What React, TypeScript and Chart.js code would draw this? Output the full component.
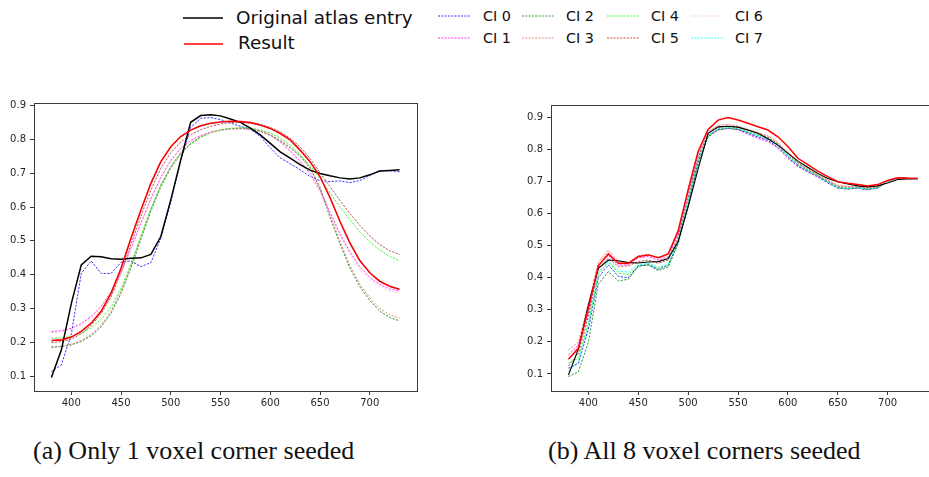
import React, { useEffect, useRef } from "react";
import { Chart, registerables } from "chart.js";
Chart.register(...registerables);

// ---------------- data ----------------
const wavelengths = [380,390,400,410,420,430,440,450,460,470,480,490,500,510,520,530,540,550,560,570,580,590,600,610,620,630,640,650,660,670,680,690,700,710,720,730];
const xTickValues = [400, 450, 500, 550, 600, 650, 700];
const yTickValues = [0.1, 0.2, 0.3, 0.4, 0.5, 0.6, 0.7, 0.8, 0.9];

const originalAtlas = [0.097,0.178,0.315,0.429,0.455,0.453,0.447,0.446,0.449,0.450,0.460,0.513,0.621,0.739,0.850,0.870,0.872,0.869,0.860,0.850,0.833,0.813,0.788,0.763,0.744,0.725,0.709,0.699,0.692,0.686,0.683,0.686,0.695,0.706,0.708,0.710];

// (a) Only 1 voxel corner seeded
const leftResult = [0.206,0.208,0.216,0.233,0.257,0.292,0.346,0.419,0.508,0.591,0.670,0.734,0.778,0.808,0.827,0.840,0.847,0.851,0.853,0.852,0.849,0.842,0.832,0.817,0.798,0.768,0.734,0.690,0.628,0.558,0.494,0.442,0.406,0.381,0.366,0.357];
const leftCI0 = [0.114,0.134,0.225,0.404,0.441,0.404,0.404,0.437,0.441,0.424,0.436,0.508,0.615,0.735,0.835,0.862,0.864,0.858,0.848,0.838,0.830,0.808,0.775,0.745,0.728,0.710,0.690,0.678,0.675,0.677,0.672,0.678,0.693,0.707,0.707,0.704];
const leftCI1 = [0.232,0.235,0.242,0.256,0.277,0.307,0.350,0.408,0.478,0.553,0.625,0.688,0.738,0.773,0.796,0.811,0.821,0.827,0.830,0.831,0.829,0.823,0.811,0.792,0.766,0.735,0.700,0.650,0.585,0.522,0.468,0.424,0.392,0.371,0.358,0.352];
const leftCI2 = [0.186,0.188,0.193,0.203,0.220,0.246,0.287,0.345,0.420,0.505,0.588,0.660,0.715,0.757,0.786,0.806,0.819,0.827,0.831,0.832,0.830,0.824,0.812,0.795,0.775,0.750,0.715,0.655,0.570,0.492,0.420,0.365,0.324,0.293,0.274,0.264];
const leftCI3 = [0.187,0.189,0.195,0.206,0.224,0.251,0.293,0.352,0.428,0.512,0.594,0.665,0.719,0.760,0.788,0.808,0.820,0.828,0.832,0.833,0.831,0.825,0.814,0.797,0.777,0.752,0.718,0.660,0.577,0.500,0.428,0.373,0.332,0.301,0.282,0.272];
const leftCI4 = [0.213,0.214,0.218,0.227,0.243,0.268,0.305,0.360,0.432,0.515,0.595,0.665,0.720,0.760,0.787,0.806,0.819,0.827,0.832,0.834,0.833,0.828,0.818,0.803,0.783,0.755,0.722,0.685,0.642,0.601,0.562,0.527,0.497,0.473,0.454,0.442];
const leftCI5 = [0.200,0.203,0.210,0.226,0.250,0.285,0.335,0.405,0.490,0.573,0.650,0.714,0.760,0.792,0.813,0.828,0.838,0.845,0.849,0.850,0.849,0.844,0.835,0.822,0.803,0.778,0.743,0.702,0.660,0.620,0.581,0.546,0.515,0.489,0.471,0.460];
const leftCI6 = [0.229,0.232,0.239,0.253,0.274,0.304,0.346,0.404,0.474,0.549,0.621,0.684,0.734,0.770,0.794,0.809,0.819,0.825,0.829,0.830,0.828,0.822,0.810,0.790,0.763,0.731,0.694,0.643,0.578,0.515,0.461,0.417,0.385,0.364,0.352,0.346];
const leftCI7 = [0.205,0.207,0.215,0.232,0.256,0.291,0.345,0.418,0.507,0.590,0.669,0.733,0.777,0.807,0.826,0.839,0.846,0.850,0.852,0.851,0.848,0.841,0.831,0.816,0.797,0.767,0.733,0.689,0.627,0.557,0.493,0.441,0.405,0.380,0.365,0.356];

// (b) All 8 voxel corners seeded
const rightResult = [0.146,0.180,0.305,0.437,0.474,0.445,0.445,0.466,0.471,0.462,0.474,0.545,0.674,0.793,0.862,0.891,0.899,0.891,0.881,0.870,0.860,0.839,0.809,0.772,0.752,0.732,0.715,0.699,0.694,0.690,0.686,0.690,0.703,0.711,0.710,0.709];
const rightCI0 = [0.118,0.133,0.240,0.400,0.440,0.404,0.400,0.437,0.440,0.426,0.438,0.510,0.630,0.760,0.840,0.862,0.866,0.862,0.850,0.838,0.828,0.806,0.775,0.748,0.730,0.714,0.695,0.679,0.676,0.679,0.674,0.679,0.700,0.710,0.710,0.705];
const rightCI1 = [0.160,0.190,0.290,0.440,0.470,0.440,0.440,0.462,0.466,0.455,0.465,0.535,0.660,0.775,0.845,0.860,0.866,0.860,0.847,0.834,0.824,0.803,0.772,0.746,0.730,0.714,0.700,0.680,0.677,0.679,0.675,0.680,0.700,0.710,0.710,0.705];
const rightCI2 = [0.092,0.107,0.200,0.380,0.419,0.390,0.395,0.435,0.440,0.422,0.433,0.505,0.625,0.755,0.838,0.860,0.865,0.862,0.852,0.842,0.832,0.812,0.780,0.752,0.733,0.716,0.698,0.680,0.677,0.680,0.675,0.680,0.700,0.710,0.710,0.706];
const rightCI3 = [0.175,0.200,0.320,0.449,0.486,0.450,0.447,0.468,0.474,0.462,0.474,0.550,0.670,0.785,0.855,0.875,0.878,0.872,0.862,0.852,0.842,0.822,0.790,0.760,0.740,0.722,0.705,0.688,0.684,0.685,0.680,0.684,0.700,0.710,0.709,0.706];
const rightCI4 = [0.133,0.150,0.260,0.410,0.450,0.414,0.410,0.437,0.444,0.430,0.440,0.515,0.640,0.765,0.842,0.864,0.868,0.865,0.855,0.845,0.835,0.815,0.783,0.755,0.735,0.718,0.700,0.682,0.679,0.681,0.676,0.681,0.700,0.710,0.710,0.705];
const rightCI5 = [0.125,0.165,0.280,0.430,0.460,0.435,0.437,0.450,0.455,0.445,0.455,0.525,0.650,0.775,0.850,0.868,0.872,0.868,0.858,0.849,0.838,0.818,0.787,0.758,0.738,0.720,0.702,0.685,0.682,0.683,0.678,0.682,0.700,0.710,0.710,0.705];
const rightCI6 = [0.155,0.185,0.300,0.445,0.480,0.445,0.440,0.465,0.470,0.458,0.470,0.545,0.668,0.785,0.856,0.874,0.878,0.872,0.862,0.852,0.842,0.822,0.790,0.760,0.740,0.722,0.703,0.688,0.684,0.684,0.680,0.684,0.700,0.710,0.709,0.706];
const rightCI7 = [0.110,0.140,0.255,0.415,0.452,0.420,0.418,0.440,0.445,0.432,0.442,0.518,0.642,0.768,0.843,0.864,0.868,0.864,0.853,0.843,0.833,0.812,0.780,0.752,0.733,0.716,0.698,0.680,0.678,0.680,0.676,0.680,0.700,0.710,0.710,0.705];

const ciLabels = ["CI 0", "CI 1", "CI 2", "CI 3", "CI 4", "CI 5", "CI 6", "CI 7"];
const ciColors = ["#0000ff", "#ff00ff", "#008000", "#e07070", "#00ff00", "#a52a2a", "#ffc0cb", "#00ffff"];
const leftCIs = [leftCI0, leftCI1, leftCI2, leftCI3, leftCI4, leftCI5, leftCI6, leftCI7];
const rightCIs = [rightCI0, rightCI1, rightCI2, rightCI3, rightCI4, rightCI5, rightCI6, rightCI7];

// ---------------- chart helpers ----------------
const tickFont = { family: "'DejaVu Sans', sans-serif", size: 10 };
const axisColor = "#3a3a3a";
const textColor = "#262626";

const toPoints = (arr: number[]) => wavelengths.map((w, i) => ({ x: w, y: arr[i] }));

const framePlugin = {
  id: "frame",
  afterDraw(chart: any) {
    const { ctx, chartArea: a } = chart;
    ctx.save();
    ctx.strokeStyle = axisColor;
    ctx.lineWidth = 1;
    ctx.strokeRect(Math.round(a.left) + 0.5, Math.round(a.top) + 0.5, Math.round(a.right - a.left), Math.round(a.bottom - a.top));
    ctx.restore();
  },
};

type PanelProps = {
  left: number; top: number; width: number; height: number;
  areaLeft: number; areaTop: number; areaRight: number; areaBottom: number;
  yMin: number; yMax: number;
  result: number[]; cis: number[][];
  blackWidth: number; redWidth: number;
};

function Panel(p: PanelProps) {
  const ref = useRef<HTMLCanvasElement>(null);
  useEffect(() => {
    const canvas = ref.current!;
    const datasets: any[] = [
      { label: "Result", data: toPoints(p.result), borderColor: "#ff0000", borderWidth: p.redWidth, pointRadius: 0, tension: 0, order: 0 },
      { label: "Original atlas entry", data: toPoints(originalAtlas), borderColor: "#000000", borderWidth: p.blackWidth, pointRadius: 0, tension: 0, order: 1 },
    ];
    p.cis.forEach((arr, i) => {
      datasets.push({
        label: ciLabels[i], data: toPoints(arr), borderColor: ciColors[i], borderWidth: 0.8,
        borderDash: [2.2, 1.4], pointRadius: 0, tension: 0, order: 2 + (7 - i),
      });
    });
    const chart = new Chart(canvas, {
      type: "line",
      data: { datasets },
      plugins: [framePlugin],
      options: {
        animation: false,
        responsive: false,
        maintainAspectRatio: false,
        events: [],
        layout: { padding: { left: 0, top: p.areaTop, right: p.width - p.areaRight, bottom: 0 } },
        plugins: { legend: { display: false }, tooltip: { enabled: false } },
        scales: {
          x: {
            type: "linear", min: 362.5, max: 747.5,
            afterFit: (s: any) => { s.height = p.height - p.areaBottom; },
            afterBuildTicks: (s: any) => { s.ticks = xTickValues.map((v) => ({ value: v })); },
            grid: { drawOnChartArea: false, drawTicks: true, tickLength: 4, color: axisColor, lineWidth: 1 },
            border: { display: false },
            ticks: { font: tickFont, color: textColor, padding: 2, maxRotation: 0, autoSkip: false, callback: (v: any) => String(v) },
          },
          y: {
            type: "linear", min: p.yMin, max: p.yMax,
            afterFit: (s: any) => { s.width = p.areaLeft; },
            afterBuildTicks: (s: any) => { s.ticks = yTickValues.map((v) => ({ value: v })); },
            grid: { drawOnChartArea: false, drawTicks: true, tickLength: 4, color: axisColor, lineWidth: 1 },
            border: { display: false },
            ticks: { font: tickFont, color: textColor, padding: 4, autoSkip: false, callback: (v: any) => Number(v).toFixed(1) },
          },
        },
      } as any,
    });
    return () => chart.destroy();
  }, []);
  return (
    <canvas ref={ref} width={p.width} height={p.height}
      style={{ position: "absolute", left: p.left, top: p.top, width: p.width, height: p.height }} />
  );
}

function LegendLine({ x1, x2, y, color, width, dashed }: any) {
  return (
    <svg style={{ position: "absolute", left: x1, top: y - 3, overflow: "visible" }} width={x2 - x1} height={6}>
      <line x1={0} y1={3} x2={x2 - x1} y2={3} stroke={color} strokeWidth={width}
        strokeDasharray={dashed ? "2 1.3" : undefined} />
    </svg>
  );
}

function Label({ x, y, text, size, family }: any) {
  return (
    <div style={{ position: "absolute", left: x, top: y, transform: "translateY(-50%)", fontFamily: family, fontSize: size, lineHeight: 1, color: "#111", whiteSpace: "nowrap" }}>
      {text}
    </div>
  );
}

export default function App() {
  const sans = "'DejaVu Sans', sans-serif";
  const serif = "'Liberation Serif', 'DejaVu Serif', serif";
  const ciPos = [
    { lx: 438, tx: 483, y: 16 }, { lx: 438, tx: 483, y: 38 },
    { lx: 522, tx: 566, y: 16 }, { lx: 522, tx: 566, y: 38 },
    { lx: 607, tx: 651, y: 16 }, { lx: 607, tx: 651, y: 38 },
    { lx: 691, tx: 735, y: 16 }, { lx: 691, tx: 735, y: 38 },
  ];
  return (
    <div style={{ position: "fixed", left: 0, top: 0, width: 929, height: 477, overflow: "hidden", background: "#fff" }}>
      <Panel left={0} top={90} width={440} height={330} areaLeft={34} areaTop={13} areaRight={417} areaBottom={301}
        yMin={0.057} yMax={0.907} result={leftResult} cis={leftCIs} blackWidth={1.5} redWidth={1.6} />
      <Panel left={480} top={90} width={460} height={330} areaLeft={71} areaTop={15} areaRight={455} areaBottom={301}
        yMin={0.047} yMax={0.938} result={rightResult} cis={rightCIs} blackWidth={1.1} redWidth={1.5} />

      <LegendLine x1={183} x2={223} y={18} color="#000" width={1.5} />
      <Label x={236} y={18} text="Original atlas entry" size={18.4} family={sans} />
      <LegendLine x1={184} x2={223} y={44} color="#ff0000" width={1.5} />
      <Label x={238} y={43} text="Result" size={18.4} family={sans} />

      {ciLabels.map((t, i) => (
        <React.Fragment key={t}>
          <LegendLine x1={ciPos[i].lx} x2={ciPos[i].lx + 33} y={ciPos[i].y} color={ciColors[i]} width={0.8} dashed />
          <Label x={ciPos[i].tx} y={ciPos[i].y} text={t} size={14.4} family={sans} />
        </React.Fragment>
      ))}

      <Label x={33} y={451} text="(a) Only 1 voxel corner seeded" size={26} family={serif} />
      <Label x={548} y={451} text="(b) All 8 voxel corners seeded" size={26} family={serif} />
    </div>
  );
}
